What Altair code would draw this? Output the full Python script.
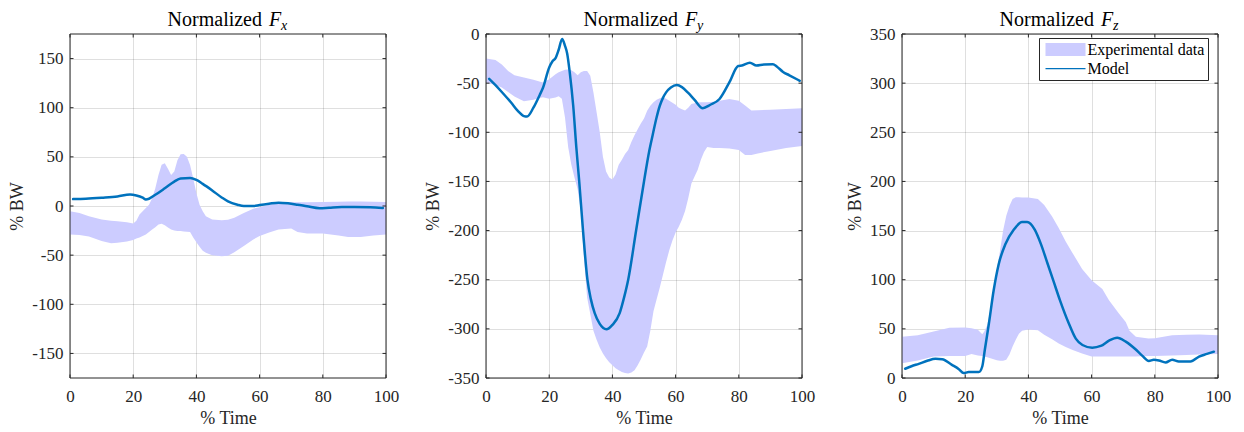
import altair as alt
import pandas as pd

# ---------------- data ----------------
X_TICKS = [0, 20, 40, 60, 80, 100]
SERIES = ["Experimental data", "Model"]

# Normalized Fx
FX_BAND_T = [0, 3, 6, 10, 13, 15, 18, 20, 21, 22, 23, 24, 25, 26, 27, 28, 29, 30, 31, 32, 33, 34, 35, 36, 37,
             38, 39, 40, 41, 42, 43, 45, 48, 50, 52, 55, 58, 60, 63, 66, 70, 72, 75, 80, 85, 88, 92, 96, 100]
FX_BAND_HI = [-5.4, -7, -10.4, -13.8, -15, -15.4, -16.5, -17.8, -15, -8.7, -5.4, -2, 1.3, 8, 18, 31.5, 42, 43.6,
              38, 31.5, 35, 46.6, 52.7, 53, 50, 41.6, 28, 13, 1.3, -5.4, -10.4, -13.8, -14.5, -14, -12, -7, -2.7,
              -1.3, 1.3, 3, 3.7, 3.8, 3.9, 4, 4.3, 4.5, 4.7, 4.3, 4]
FX_BAND_LO = [-29, -29.5, -31, -35.6, -38, -37.5, -36, -34.6, -33, -32, -30.5, -29, -26.5, -24, -21.5, -18.8, -18,
              -19.5, -22, -24, -25, -25.5, -25.5, -26, -26.2, -26.5, -32, -37, -41.5, -45.6, -47.5, -50, -51,
              -50.7, -47, -40.6, -34, -30.5, -27, -23.8, -22.8, -26.5, -27.9, -28, -30, -31.5, -31.5, -30, -29]
FX_MODEL_T = [1, 5, 10, 15, 19, 21, 23, 24, 25, 27, 30, 33, 35, 38, 40, 42, 45, 48, 50, 53, 55, 58, 60, 63, 66,
              69, 72, 75, 79, 82, 86, 90, 95, 99]
FX_MODEL_V = [7, 7.4, 8.4, 9.7, 11.7, 10.7, 8.5, 6.7, 7.4, 11.4, 18, 24.8, 28, 28.5, 26.5, 22.5, 15.8, 8.7, 4.7,
              1.3, 0, 0, 1, 2.3, 3.4, 2.7, 1.3, -0.3, -2.3, -1.7, -1, -1, -1.3, -2]
FX_Y_TICKS = [-150, -100, -50, 0, 50, 100, 150]
FX_Y_DOMAIN = [-175, 175]

# Normalized Fy
FY_BAND_T = [0, 3, 5, 7, 9, 12, 15, 18, 20, 22, 23, 24, 25, 26, 27, 28, 29, 30, 31, 32, 33, 34, 35, 36, 37, 38,
             39, 40, 41, 42, 43, 44, 45, 46, 47, 48, 49, 50, 51, 52, 53, 54, 55, 56, 57, 58, 59, 60, 61, 62, 63,
             64, 65, 66, 67, 68, 69, 70, 72, 74, 77, 80, 82, 84, 86, 90, 95, 100]
FY_BAND_HI = [-25, -26.5, -31, -37.6, -42, -44.3, -46.6, -49.3, -46, -41, -39, -37.6, -36.5, -36, -37, -39, -42,
              -39, -37.6, -37.6, -42.6, -59.4, -79.5, -100, -125, -140, -146, -148, -143, -133, -128, -122, -118,
              -110, -103, -97, -91, -86, -78, -73, -69.5, -67, -65.4, -64.4, -66, -68, -70, -72, -75, -76.5,
              -77.9, -75, -71.2, -70.5, -69.8, -69.5, -69.5, -69.5, -69, -67.8, -66.1, -67.8, -72.8, -77.9,
              -77.5, -77, -76.2, -75.5]
FY_BAND_LO = [-49.3, -52, -54.4, -59, -63.5, -68.5, -66.8, -64.4, -66, -64.5, -63.4, -66, -85, -115, -133, -146,
              -158, -180, -228, -268, -285, -302, -311, -319, -325, -330, -334, -337, -340, -342, -344, -345,
              -345.5, -344.5, -342, -337, -331, -324, -318, -302, -282, -270, -258, -245, -232, -220, -210, -202,
              -196, -189, -180, -167, -152, -145, -138, -128, -120, -115, -116, -116, -116.4, -118, -123, -123,
              -121.5, -119, -116, -114]
FY_MODEL_T = [1, 3, 5, 8, 10, 12, 13, 15, 17, 18, 20, 21, 22, 23, 24.1, 25, 25.7, 26.5, 27.6, 28.6, 29.5, 30.7,
              32.1, 33.2, 34.4, 36, 38.1, 40, 42.3, 43.7, 45, 47.5, 50, 51.6, 52.8, 53.9, 55,
              56, 57, 58.5, 60.4, 62, 64, 66, 68.6, 71, 73.9, 77, 79.8, 81, 83.5, 85.6, 88, 90.8, 92, 94, 96, 99.3]
FY_MODEL_V = [-45.6, -52, -59, -70, -78, -83.5, -84, -75, -62, -55, -34, -28, -24.5, -16, -5, -12, -20, -39, -73,
              -116, -150, -200, -250, -270, -284, -295, -300.5, -296, -284, -268, -250, -200, -150, -120, -102,
              -86, -73, -65, -59.4, -54.5, -52, -54, -60, -67, -75.5, -72,
              -66.1, -49.3, -32.5, -32, -29.2, -32, -31, -30.9, -33, -38.6, -42, -47.6]
FY_Y_TICKS = [-350, -300, -250, -200, -150, -100, -50, 0]
FY_Y_DOMAIN = [-350, 0]

# Normalized Fz
FZ_BAND_T = [0, 5, 10, 15, 20, 22, 24, 25.4, 26, 27, 28, 29, 30, 31, 32, 33, 34, 35, 36, 37, 38, 40, 43, 45,
             47.5, 49.6, 51.8, 54, 57, 60, 63.4, 65.5, 68.7, 70.8, 72, 74, 78, 80, 85.5, 90, 94, 100]
FZ_BAND_HI = [42, 43.6, 47.3, 51, 51.3, 50.5, 49, 44.6, 47, 54, 70, 89, 110, 129, 150, 165, 175, 182, 184, 184,
              183.6, 183.6, 182, 176, 164.4, 152.7, 139, 127, 111, 99.5, 90.6, 79, 65.4, 57, 48, 42, 40.3, 40.5,
              43.6, 44, 44.3, 43.6]
FZ_BAND_LO = [15, 17.8, 22, 22.5, 22.5, 24.5, 23, 22.5, 22, 21, 20, 19, 18, 17.5, 17.5, 18.5, 24, 32, 39, 45, 48,
              49.3, 48.7, 44, 39.5, 35.2, 31.5, 28.5, 25, 22, 22, 22, 22, 22, 22, 22, 22.3, 22.5, 23, 23.5, 24,
              24.5]
FZ_MODEL_T = [1, 3, 5.3, 8, 10.6, 12.7, 15.8, 18, 19.5, 21.1, 24.3, 25.4, 26.2, 27.5, 29, 30.6, 32.7, 35.4, 38,
              39.6, 42, 44, 46, 48, 50, 52.8, 55, 57.1, 60.2, 62.9, 65.5, 68.1, 70.8, 73.9, 76, 78.1, 79.7, 81.3,
              83.4, 85.5, 87.6, 91.3, 94, 96.5, 98.7]
FZ_MODEL_V = [9.4, 12, 14.4, 17.5, 19.5, 19.1, 13.4, 9, 5, 6, 6, 11.7, 28.5, 55.4, 89, 115.8, 136, 151, 158.7,
              158.7, 151, 136, 117, 98, 79, 55.4, 40, 33.6, 30.9, 32.6, 38, 41, 37, 29.2, 22.8, 17.4, 18.5, 17.8,
              15.8, 18.5, 16.8, 16.8, 21.8, 24.5, 26.8]
FZ_Y_TICKS = [0, 50, 100, 150, 200, 250, 300, 350]
FZ_Y_DOMAIN = [0, 350]

# ---------------- style ----------------
W, H = 316, 344
FONT = "Liberation Serif"
AXC = "#262626"
BAND_C = "#CCCCFF"
LINE_C = "#0072BD"
TICK_LEN = 3.5


def panel(band_t, band_hi, band_lo, model_t, model_v, y_domain, y_ticks, sub, show_legend):
    band_df = pd.DataFrame({"t": band_t, "hi": band_hi, "lo": band_lo, "series": SERIES[0]})
    model_df = pd.DataFrame({"t": model_t, "hi": model_v, "series": SERIES[1]})
    xt_df = pd.DataFrame({"t": X_TICKS})
    yt_df = pd.DataFrame({"hi": y_ticks})
    one = pd.DataFrame({"k": [0]})

    xs = alt.Scale(domain=[0, 100], nice=False, zero=False)
    ys = alt.Scale(domain=y_domain, nice=False, zero=False)

    x_axis = alt.Axis(values=X_TICKS, title="% Time", labelPadding=10, titlePadding=5)
    y_axis = alt.Axis(values=y_ticks, title="% BW", labelPadding=7, titlePadding=5,
                      labelExpr="'' + datum.value")

    if show_legend:
        leg = alt.Legend(
            title=None, orient="none", legendX=137, legendY=4, symbolSize=100,
            symbolType=alt.ExprRef(
                expr="datum.value == 'Model' ? 'M-4,-0.125H4V0.125H-4Z' : 'M-4,-1.3H4V1.3H-4Z'"),
            symbolStrokeWidth=0, symbolOffset=15, labelOffset=14,
            rowPadding=3, padding=3.5, labelFont=FONT, labelFontSize=16, labelColor="black",
            strokeColor=AXC, fillColor="white", labelLimit=0, cornerRadius=0)
    else:
        leg = None
    color = alt.Color("series:N", scale=alt.Scale(domain=SERIES, range=[BAND_C, LINE_C]), legend=leg)
    X = alt.X("t:Q", scale=xs, axis=x_axis)
    Y = alt.Y("hi:Q", scale=ys, axis=y_axis)

    band = alt.Chart(band_df).mark_area(opacity=1, interpolate="linear").encode(
        x=X, y=Y, y2="lo:Q", color=color)
    model = alt.Chart(model_df).mark_line(strokeWidth=2.5, strokeJoin="round", strokeCap="round",
                                          interpolate="monotone").encode(
        x=X, y=Y, color=color)
    frame = alt.Chart(one).mark_rect(filled=False, stroke=AXC, strokeWidth=1).encode(
        x=alt.value(0), x2=alt.value(W), y=alt.value(0), y2=alt.value(H))
    ytl = alt.Chart(yt_df).mark_rule(color=AXC, strokeWidth=1).encode(
        y=Y, x=alt.value(0), x2=alt.value(TICK_LEN))
    ytr = alt.Chart(yt_df).mark_rule(color=AXC, strokeWidth=1).encode(
        y=Y, x=alt.value(W - TICK_LEN), x2=alt.value(W))
    xtb = alt.Chart(xt_df).mark_rule(color=AXC, strokeWidth=1).encode(
        x=X, y=alt.value(H - TICK_LEN), y2=alt.value(H))
    xtt = alt.Chart(xt_df).mark_rule(color=AXC, strokeWidth=1).encode(
        x=X, y=alt.value(0), y2=alt.value(TICK_LEN))

    t1 = alt.Chart(one).mark_text(text="Normalized", font=FONT, fontSize=20, align="right",
                                  baseline="alphabetic", color="black").encode(
        x=alt.value(W / 2 + 34), y=alt.value(-8))
    t2 = alt.Chart(one).mark_text(text="F", font=FONT, fontSize=20, fontStyle="italic", align="left",
                                  baseline="alphabetic", color="black").encode(
        x=alt.value(W / 2 + 41), y=alt.value(-8))
    t3 = alt.Chart(one).mark_text(text=sub, font=FONT, fontSize=14, fontStyle="italic", align="left",
                                  baseline="alphabetic", color="black").encode(
        x=alt.value(W / 2 + 53), y=alt.value(-4))

    return alt.layer(band, model, ytl, ytr, xtb, xtt, frame, t1, t2, t3).properties(width=W, height=H)


p1 = panel(FX_BAND_T, FX_BAND_HI, FX_BAND_LO, FX_MODEL_T, FX_MODEL_V, FX_Y_DOMAIN, FX_Y_TICKS, "x", False)
p2 = panel(FY_BAND_T, FY_BAND_HI, FY_BAND_LO, FY_MODEL_T, FY_MODEL_V, FY_Y_DOMAIN, FY_Y_TICKS, "y", False)
p3 = panel(FZ_BAND_T, FZ_BAND_HI, FZ_BAND_LO, FZ_MODEL_T, FZ_MODEL_V, FZ_Y_DOMAIN, FZ_Y_TICKS, "z", True)

chart = alt.hconcat(p1, p2, p3, spacing=100, bounds="flush").resolve_scale(
    color="independent").resolve_legend(color="independent").properties(
    padding={"left": 0, "top": 2, "right": 0, "bottom": 0}, background="white"
).configure(font=FONT).configure_view(strokeWidth=0).configure_axis(
    grid=True, ticks=False, tickSize=0, domain=False, labelFlush=False, labelOverlap=False,
    labelFont=FONT, labelFontSize=17, labelColor=AXC,
    titleFont=FONT, titleFontSize=18, titleFontWeight="normal", titleColor=AXC,
    gridColor=AXC, gridOpacity=0.15, gridWidth=1, zindex=1
).configure_legend(labelFont=FONT)

chart.save("out.html", embed_options={"renderer": "svg", "actions": False})
